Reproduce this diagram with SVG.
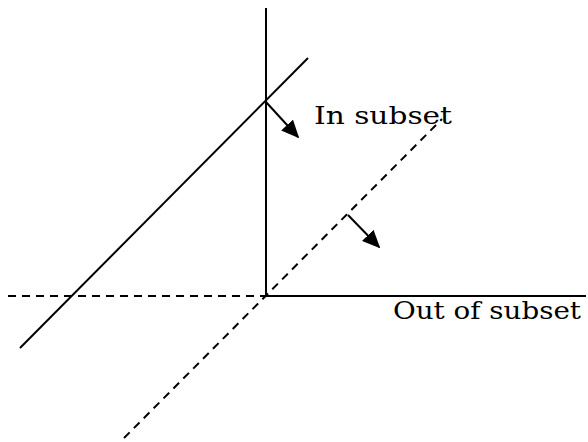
<svg xmlns="http://www.w3.org/2000/svg" width="588" height="442" viewBox="0 0 588 442">
<defs>
<marker id="ah" viewBox="0 0 10 10" refX="9" refY="5" markerWidth="18" markerHeight="16" markerUnits="userSpaceOnUse" orient="auto" preserveAspectRatio="none">
<path d="M0,0 L10,5 L0,10 Z" fill="#000"/>
</marker>
<style>
.s{stroke:#000;stroke-width:2;fill:none}
.d{stroke:#000;stroke-width:2;fill:none;stroke-dasharray:8,6}
.a{stroke:#000;stroke-width:2;fill:none;marker-end:url(#ah)}
.t{font-family:"DejaVu Serif","Liberation Serif",serif;font-size:24px;fill:#000}
</style>
</defs>
<rect width="588" height="442" fill="#fff"/>
<g id="connectors">
<line class="s" x1="266" y1="8" x2="266" y2="296"/>
<line class="s" x1="266" y1="296" x2="586" y2="296"/>
<line class="d" x1="8" y1="296" x2="266" y2="296"/>
<line class="s" x1="20" y1="348" x2="308" y2="58"/>
<line class="d" x1="124" y1="438" x2="442" y2="119"/>
<line class="a" x1="266" y1="102" x2="298" y2="137"/>
<line class="a" x1="348" y1="215" x2="379" y2="247"/>
</g>
<g id="label-in"><text class="t" x="314" y="124" textLength="138" lengthAdjust="spacingAndGlyphs">In subset</text></g>
<g id="label-out"><text class="t" x="393" y="319" textLength="188" lengthAdjust="spacingAndGlyphs">Out of subset</text></g>
</svg>
